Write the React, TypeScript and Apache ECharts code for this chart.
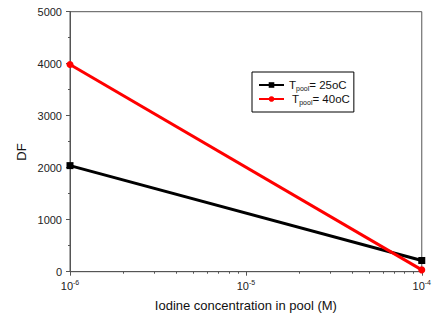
import React, { useEffect, useRef } from "react";
import * as echarts from "echarts";

const concentrations = [1e-6, 1e-4];
const df25 = [2040, 215];
const df40 = [3985, 35];
const seriesNames = ["T25", "T40"];
const legendLabels = ["T{sub|pool}= 25oC", " T{sub|pool}= 40oC"];
const minorTickValues = [2e-6, 3e-6, 4e-6, 5e-6, 6e-6, 7e-6, 8e-6, 9e-6, 2e-5, 3e-5, 4e-5, 5e-5, 6e-5, 7e-5, 8e-5, 9e-5];
const majorTickValues = [1e-6, 1e-5, 1e-4];
const xTitle = "Iodine concentration in pool (M)";
const yTitle = "DF";

export default function App() {
  const ref = useRef<HTMLDivElement>(null);
  useEffect(() => {
    const chart = echarts.init(ref.current!, null, { renderer: "svg" });
    const axisColor = "#555";
    const font = "Arial, 'Liberation Sans', sans-serif";
    chart.setOption({
      animation: false,
      textStyle: { fontFamily: font },
      grid: {
        left: 70,
        right: 8.5,
        top: 11.7,
        bottom: 48.3,
        show: true,
        borderColor: axisColor,
        borderWidth: 1,
      },
      legend: {
        orient: "vertical",
        left: 252,
        top: 72,
        data: seriesNames,
        borderColor: "#000",
        borderWidth: 1,
        padding: [6, 4, 6, 6],
        itemGap: 0,
        itemWidth: 25,
        itemHeight: 7,
        formatter: (name: string) => legendLabels[seriesNames.indexOf(name)],
        textStyle: {
          fontSize: 11.5,
          lineHeight: 14,
          color: "#111",
          fontFamily: font,
          rich: {
            sub: { fontSize: 7, lineHeight: 14, padding: [7, 0, 0, 0], fontFamily: font, color: "#111" },
          },
        },
      },
      xAxis: [
        {
          type: "log",
          logBase: 10,
          min: 1e-6,
          max: 1e-4,
          name: xTitle,
          nameLocation: "middle",
          nameGap: 27,
          nameTextStyle: { fontSize: 13, color: "#111", fontFamily: font },
          axisLine: { show: true, lineStyle: { color: axisColor, width: 1 } },
          axisTick: { show: true, length: 4, lineStyle: { color: axisColor }, customValues: majorTickValues },
          axisLabel: {
            customValues: majorTickValues,
            margin: 7,
            color: "#222",
            fontSize: 11,
            formatter: (v: number) => "10{sup|" + Math.round(Math.log10(v)) + "}",
            rich: { sup: { fontSize: 7, padding: [0, 0, 7, 0], color: "#222" } },
          },
          splitLine: { show: false },
        },
        {
          type: "log",
          logBase: 10,
          min: 1e-6,
          max: 1e-4,
          position: "bottom",
          offset: 0,
          axisLine: { show: true, lineStyle: { color: axisColor, width: 1 } },
          axisTick: { show: true, length: 2, lineStyle: { color: axisColor, width: 1 }, customValues: minorTickValues },
          axisLabel: { show: false },
          splitLine: { show: false },
        },
      ],
      yAxis: {
        type: "value",
        min: 0,
        max: 5000,
        interval: 1000,
        axisLine: { show: true, lineStyle: { color: axisColor, width: 1 } },
        axisTick: { show: true, length: 4, lineStyle: { color: axisColor } },
        minorTick: { show: true, splitNumber: 2, length: 2, lineStyle: { color: axisColor } },
        axisLabel: { margin: 8, color: "#222", fontSize: 11, formatter: (v: number) => String(v) },
        splitLine: { show: false },
      },
      graphic: [
        {
          type: "text",
          x: 21,
          y: 152,
          rotation: Math.PI / 2,
          style: {
            text: yTitle,
            fontSize: 13,
            fill: "#111",
            fontFamily: font,
            align: "center",
            verticalAlign: "middle",
          },
        },
      ],
      series: [
        {
          name: seriesNames[0],
          type: "line",
          data: concentrations.map((c, i) => [c, df25[i]]),
          symbol: "rect",
          symbolSize: 7,
          lineStyle: { color: "#000", width: 3 },
          itemStyle: { color: "#000" },
          z: 2,
        },
        {
          name: seriesNames[1],
          type: "line",
          data: concentrations.map((c, i) => [c, df40[i]]),
          symbol: "circle",
          symbolSize: 7,
          lineStyle: { color: "#ff0000", width: 3 },
          itemStyle: { color: "#ff0000" },
          z: 3,
        },
      ],
    });
    return () => chart.dispose();
  }, []);
  return <div ref={ref} style={{ width: 434, height: 320, position: "absolute", left: 0, top: 0 }} />;
}
